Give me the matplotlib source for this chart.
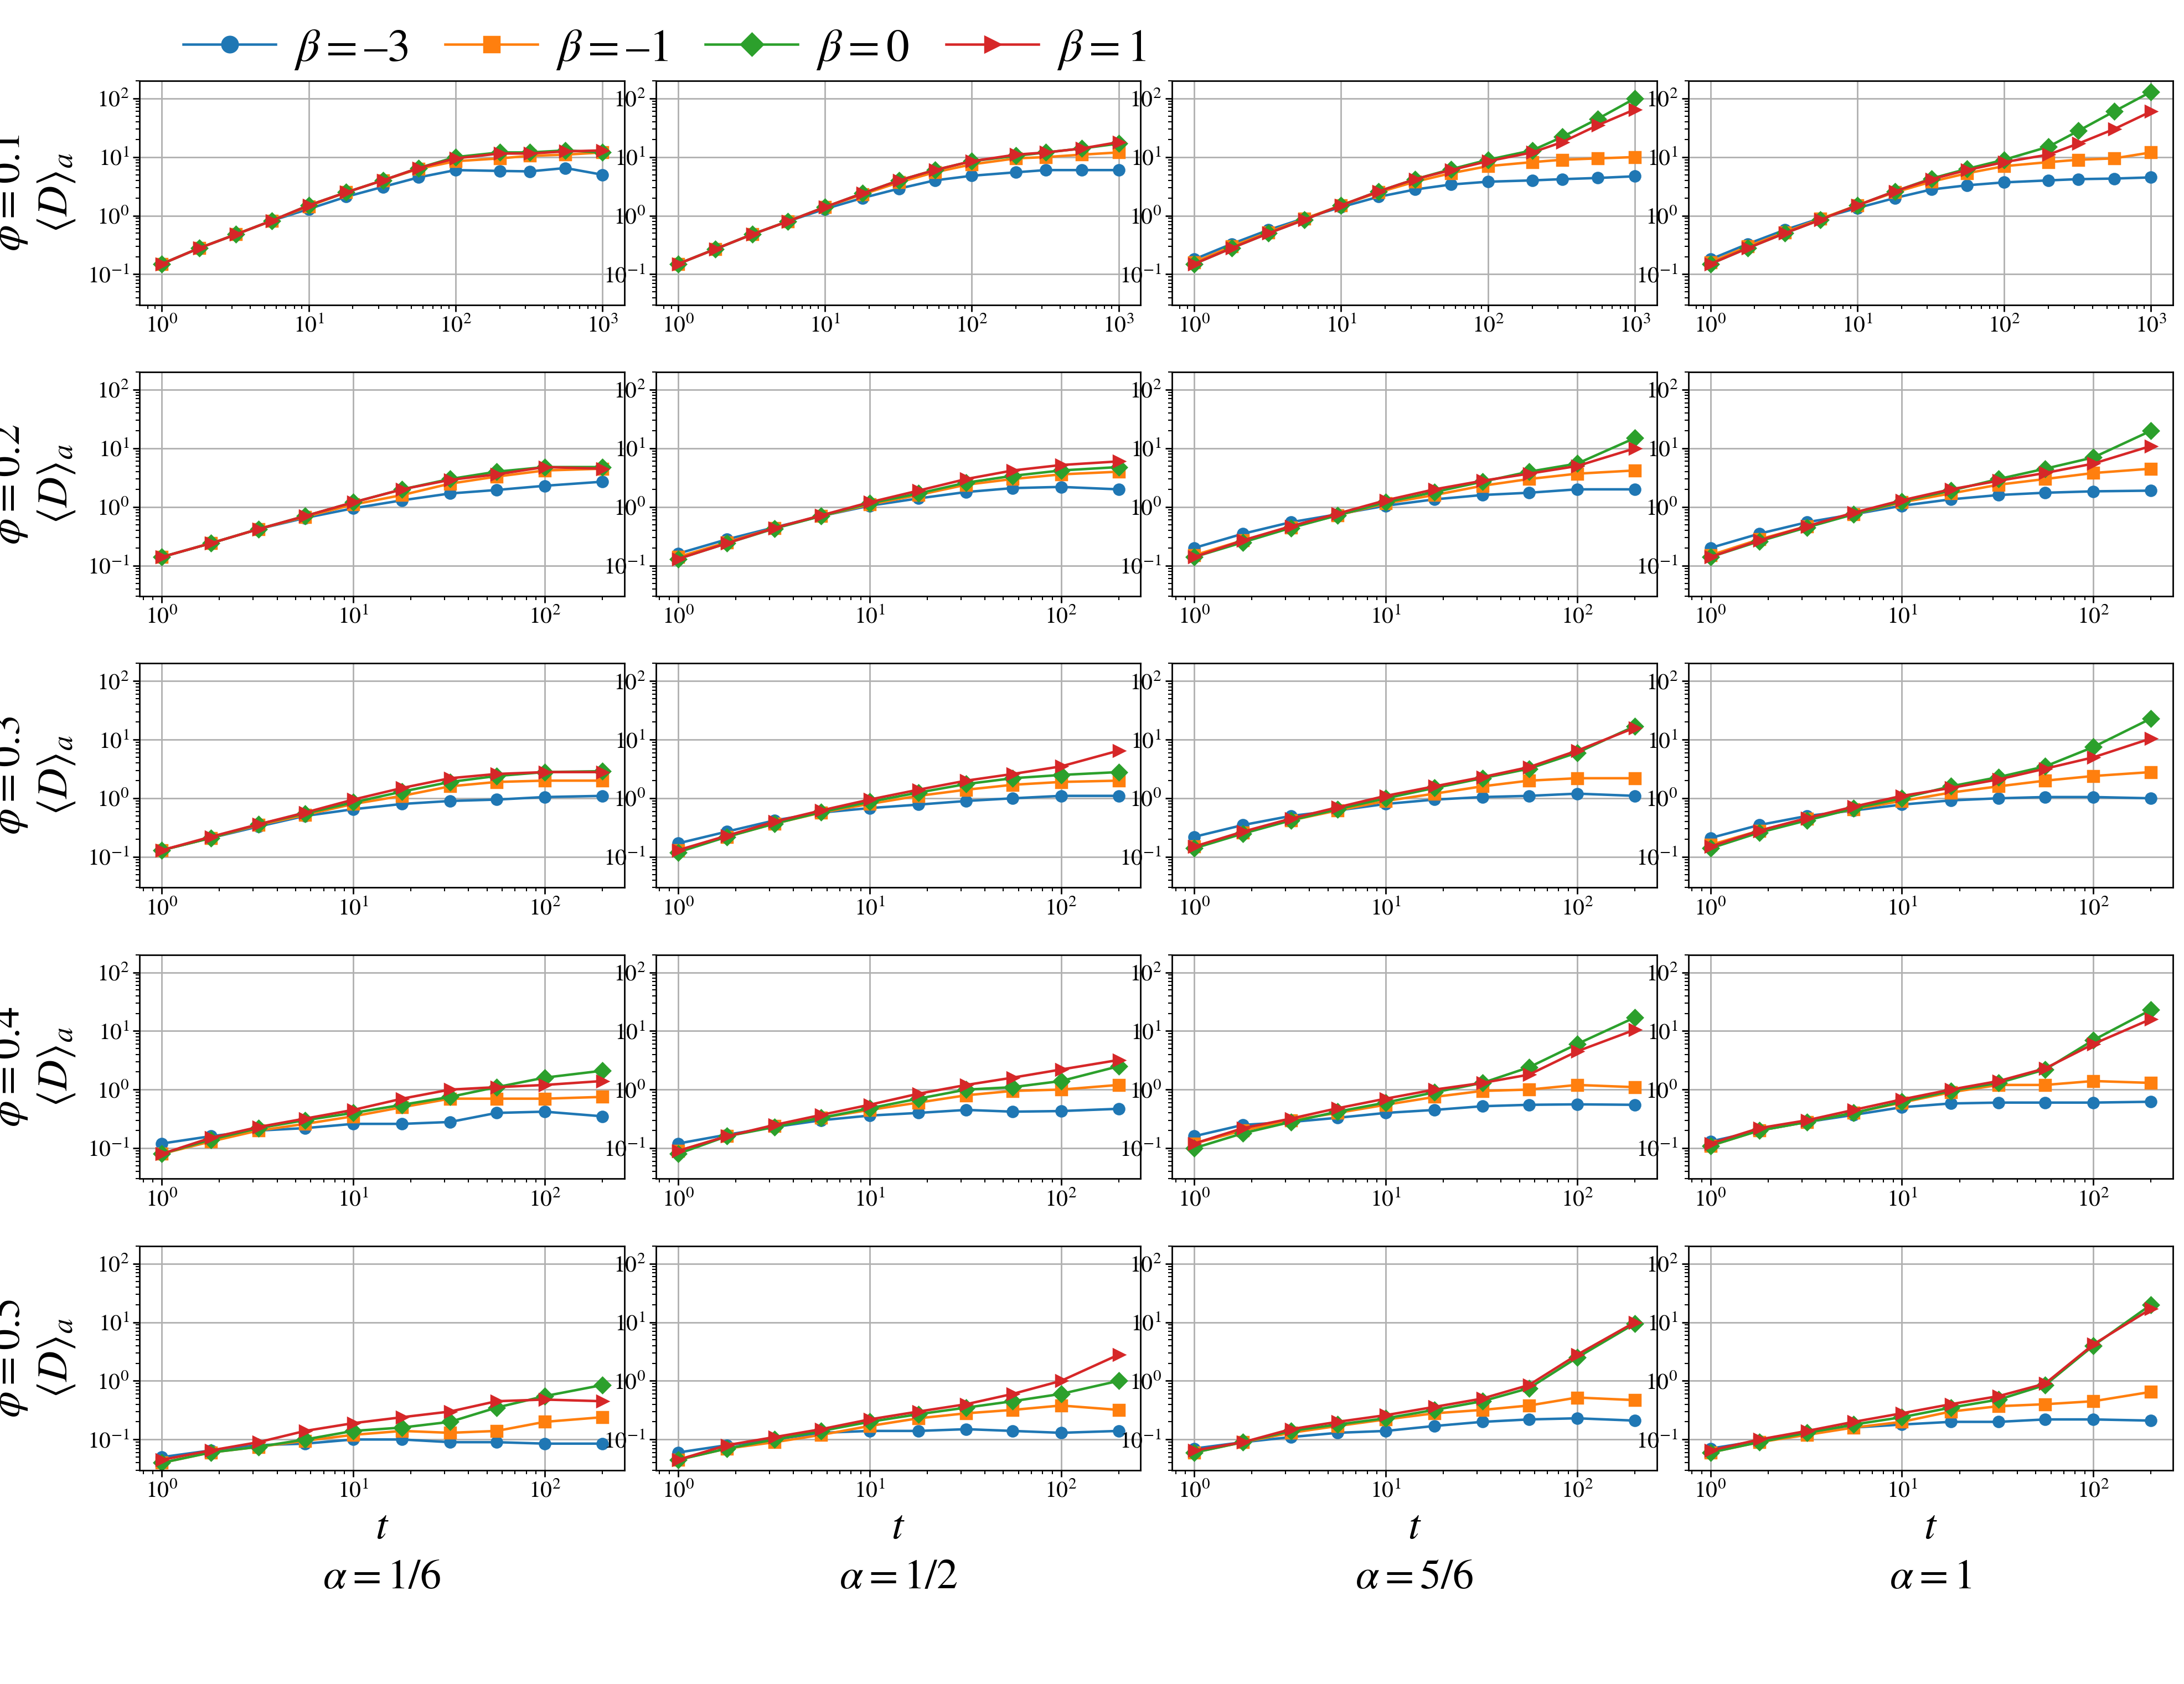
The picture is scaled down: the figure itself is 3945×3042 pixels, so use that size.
import numpy as np
import matplotlib
matplotlib.use('Agg')
from matplotlib import pyplot as plt

plt.rcParams['font.family'] = 'STIXGeneral'
plt.rcParams['mathtext.fontset'] = 'stix'

# time points
t_long = [1, 1.8, 3.2, 5.6, 10, 18, 32, 56, 100, 200, 320, 560, 1000]
t_short = [1, 1.8, 3.2, 5.6, 10, 18, 32, 56, 100, 200]

phis = ['0.1', '0.2', '0.3', '0.4', '0.5']
alphas = ['1/6', '1/2', '5/6', '1']
betas = ['-3', '-1', '0', '1']
colors = ['#1f77b4', '#ff7f0e', '#2ca02c', '#d62728']
markers = ['o', 's', 'D', '>']

# data[row][col] -> [beta=-3, beta=-1, beta=0, beta=1]
phi01 = [
    [[.15, .28, .48, .82, 1.3, 2.1, 3.1, 4.5, 6, 5.8, 5.7, 6.5, 5],
     [.15, .28, .48, .82, 1.45, 2.5, 4, 6.3, 8.5, 9.5, 10.5, 11, 12],
     [.15, .28, .48, .82, 1.5, 2.5, 4, 6.5, 10, 12, 12, 13, 12],
     [.15, .28, .48, .82, 1.5, 2.5, 4, 6.5, 9.5, 11.5, 11.5, 12.5, 13]],
    [[.15, .27, .48, .8, 1.3, 2, 2.9, 4, 4.8, 5.5, 6, 6, 6],
     [.15, .27, .48, .8, 1.4, 2.3, 3.7, 5.5, 7.5, 9.5, 10, 11, 12],
     [.15, .27, .48, .8, 1.4, 2.4, 4, 6, 8.5, 10.5, 12, 14, 17],
     [.15, .27, .48, .8, 1.4, 2.4, 4, 6, 8.5, 11, 12, 14, 18]],
    [[.18, .33, .57, .9, 1.4, 2.1, 2.8, 3.4, 3.8, 4, 4.2, 4.4, 4.7],
     [.16, .3, .52, .88, 1.5, 2.5, 3.8, 5.3, 7, 8.2, 9, 9.5, 10],
     [.15, .28, .5, .85, 1.5, 2.6, 4.2, 6.2, 9, 13, 22, 45, 100],
     [.15, .28, .5, .85, 1.5, 2.6, 4.2, 6, 8.5, 12, 18, 35, 65]],
    [[.18, .33, .57, .9, 1.35, 2, 2.8, 3.3, 3.7, 4, 4.2, 4.3, 4.5],
     [.16, .3, .52, .88, 1.5, 2.5, 3.8, 5.3, 7, 8.2, 9, 9.5, 12],
     [.15, .28, .5, .85, 1.5, 2.6, 4.3, 6.3, 9, 15, 28, 60, 130],
     [.15, .28, .5, .85, 1.5, 2.6, 4.2, 6, 8.2, 11, 17, 30, 60]],
]
phi02 = [
    [[.14, .24, .42, .65, .95, 1.3, 1.7, 1.95, 2.3, 2.7],
     [.14, .24, .42, .68, 1.1, 1.6, 2.5, 3.3, 4.2, 4.5],
     [.14, .24, .42, .7, 1.2, 2, 3, 4, 4.8, 4.8],
     [.14, .24, .42, .7, 1.2, 2, 2.9, 3.6, 4.8, 4.5]],
    [[.16, .28, .45, .7, 1.05, 1.4, 1.8, 2.1, 2.2, 2],
     [.14, .25, .44, .7, 1.1, 1.6, 2.4, 3, 3.6, 4],
     [.13, .24, .43, .7, 1.15, 1.7, 2.6, 3.4, 4.2, 4.8],
     [.13, .24, .44, .72, 1.2, 1.9, 3, 4.2, 5.2, 6]],
    [[.2, .35, .55, .75, 1.05, 1.35, 1.6, 1.75, 2, 2],
     [.15, .27, .45, .72, 1.15, 1.6, 2.3, 3, 3.7, 4.2],
     [.14, .25, .44, .72, 1.2, 1.8, 2.7, 4, 5.5, 15],
     [.14, .27, .47, .77, 1.3, 2, 2.8, 3.7, 5, 10]],
    [[.2, .35, .55, .75, 1.05, 1.35, 1.6, 1.75, 1.85, 1.9],
     [.15, .28, .47, .75, 1.2, 1.7, 2.4, 3, 3.8, 4.5],
     [.14, .26, .45, .75, 1.25, 1.9, 3, 4.5, 7, 20],
     [.14, .27, .47, .8, 1.3, 2, 2.8, 3.8, 5.5, 11]],
]
phi03 = [
    [[.13, .21, .33, .5, .65, .8, .9, .95, 1.05, 1.1],
     [.13, .21, .35, .52, .8, 1.1, 1.6, 1.9, 2, 2],
     [.13, .21, .36, .55, .85, 1.3, 1.9, 2.4, 2.8, 2.9],
     [.13, .22, .36, .57, .95, 1.5, 2.2, 2.6, 2.8, 2.8]],
    [[.17, .27, .42, .57, .68, .78, .9, 1, 1.1, 1.1],
     [.13, .22, .37, .57, .8, 1.1, 1.4, 1.7, 1.9, 2],
     [.12, .22, .37, .58, .87, 1.25, 1.75, 2.2, 2.5, 2.8],
     [.13, .23, .4, .62, .95, 1.4, 2, 2.6, 3.5, 6.5]],
    [[.22, .35, .5, .62, .8, .95, 1.05, 1.1, 1.2, 1.1],
     [.15, .26, .42, .62, .9, 1.2, 1.6, 2, 2.2, 2.2],
     [.14, .25, .42, .65, 1, 1.5, 2.2, 3.2, 6, 17],
     [.15, .27, .45, .7, 1.1, 1.6, 2.3, 3.4, 6.5, 16]],
    [[.21, .35, .5, .62, .78, .92, 1, 1.05, 1.05, 1],
     [.16, .28, .45, .65, .9, 1.25, 1.6, 2, 2.4, 2.8],
     [.14, .26, .42, .67, 1, 1.6, 2.3, 3.5, 7.5, 23],
     [.15, .28, .46, .72, 1.1, 1.5, 2.1, 3.2, 5, 10.5]],
]
phi04 = [
    [[.12, .16, .2, .22, .26, .26, .28, .4, .42, .35],
     [.08, .13, .2, .26, .35, .5, .7, .7, .7, .75],
     [.08, .14, .22, .3, .4, .55, .75, 1.1, 1.6, 2.1],
     [.08, .15, .23, .32, .45, .7, 1, 1.1, 1.2, 1.4]],
    [[.12, .17, .23, .3, .36, .4, .45, .42, .43, .47],
     [.09, .16, .24, .33, .45, .6, .8, .95, 1, 1.2],
     [.08, .16, .23, .33, .48, .7, 1, 1.1, 1.4, 2.5],
     [.09, .16, .25, .37, .55, .85, 1.2, 1.6, 2.2, 3.2]],
    [[.16, .25, .28, .33, .4, .45, .52, .55, .56, .55],
     [.12, .2, .3, .4, .55, .75, .95, 1, 1.2, 1.1],
     [.1, .18, .28, .42, .6, .9, 1.3, 2.4, 6, 17],
     [.12, .22, .32, .48, .7, 1, 1.3, 1.8, 4.5, 10.5]],
    [[.13, .2, .28, .37, .5, .58, .6, .6, .6, .62],
     [.11, .2, .28, .4, .6, .9, 1.2, 1.2, 1.4, 1.3],
     [.11, .2, .28, .4, .62, .95, 1.3, 2.2, 7, 23],
     [.12, .22, .3, .45, .68, 1, 1.4, 2.3, 6, 16]],
]
phi05 = [
    [[.05, .065, .08, .085, .1, .1, .09, .09, .085, .085],
     [.04, .06, .075, .095, .12, .14, .13, .14, .2, .24],
     [.04, .06, .075, .1, .14, .16, .2, .35, .55, .85],
     [.045, .065, .09, .14, .19, .24, .3, .45, .48, .45]],
    [[.06, .08, .1, .13, .14, .14, .15, .14, .13, .14],
     [.045, .07, .09, .12, .17, .23, .28, .32, .38, .32],
     [.045, .07, .1, .14, .2, .27, .35, .45, .6, 1],
     [.045, .08, .11, .15, .22, .3, .4, .6, 1, 2.8]],
    [[.07, .09, .11, .13, .14, .17, .2, .22, .23, .21],
     [.06, .09, .13, .17, .22, .28, .32, .38, .52, .47],
     [.06, .09, .14, .18, .23, .32, .45, .75, 2.5, 9.5],
     [.065, .09, .15, .2, .26, .36, .5, .85, 2.8, 10]],
    [[.07, .095, .13, .16, .18, .2, .2, .22, .22, .21],
     [.06, .09, .12, .16, .2, .3, .37, .4, .45, .65],
     [.06, .09, .13, .18, .24, .35, .48, .85, 4, 20],
     [.065, .1, .14, .2, .28, .4, .55, .9, 4.2, 17]],
]
data = [phi01, phi02, phi03, phi04, phi05]

fig, axes = plt.subplots(5, 4, figsize=(15.78, 12.168), dpi=250)
fig.subplots_adjust(left=0.064, right=0.995, top=0.952, bottom=0.127,
                    wspace=0.065, hspace=0.3)

for r in range(5):
    t = t_long if r == 0 else t_short
    for c in range(4):
        ax = axes[r, c]
        for b in range(4):
            ax.plot(t, data[r][c][b], color=colors[b], marker=markers[b],
                    markersize=5.5, linewidth=1.3,
                    label=r'$\beta = %s$' % betas[b].replace('-', '–'))
        ax.set_xscale('log')
        ax.set_yscale('log')
        ax.set_ylim(0.03, 200)
        ax.set_yticks([0.1, 1, 10, 100])
        ax.grid(True, which='major', color='#b0b0b0', linewidth=0.8)
        ax.tick_params(labelsize=12, pad=2)
        if c == 0:
            ax.set_ylabel(r'$\phi = %s$' '\n' r'$\langle D\rangle_a$' % phis[r],
                          fontsize=22, linespacing=1.2)
            ax.yaxis.set_label_coords(-0.13, 0.5)
        if r == 4:
            ax.set_xlabel(r'$t$' '\n' r'$\alpha = %s$' % alphas[c], fontsize=22,
                          linespacing=1.4)

handles, labels = axes[0, 0].get_legend_handles_labels()
fig.legend(handles, labels, loc='upper left', bbox_to_anchor=(0.065, 1.008),
           ncol=4, frameon=False, fontsize=24, handlelength=2.0,
           columnspacing=0.8, handletextpad=0.4, markerscale=1.5)

plt.savefig('out.png', dpi=250)
